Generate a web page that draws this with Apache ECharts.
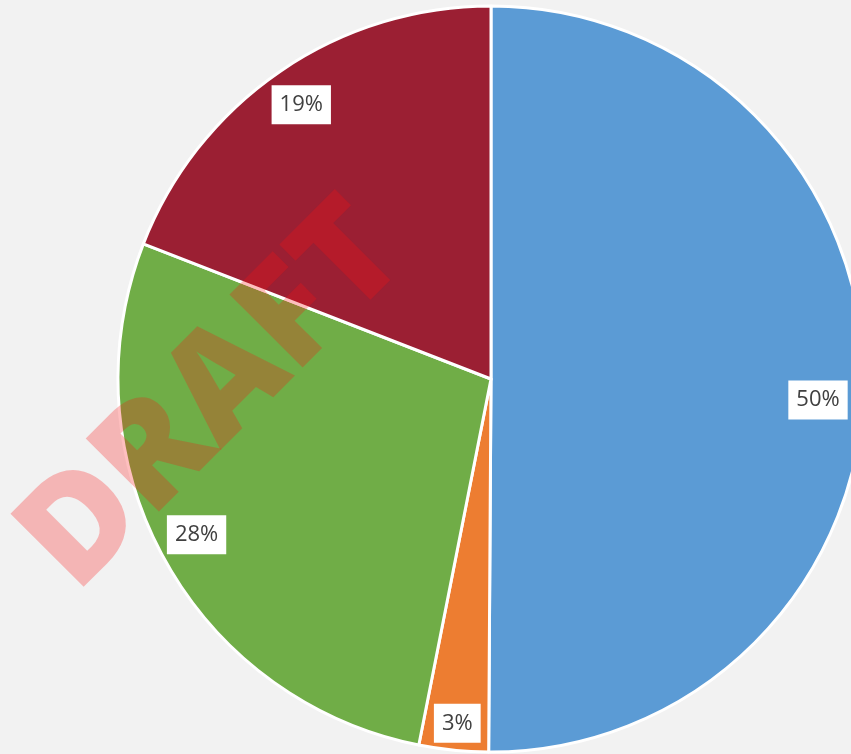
<!DOCTYPE html>
<html>
<head>
<meta charset="utf-8">
<style>
  html, body { margin: 0; padding: 0; background: #f2f2f2; }
  #chart { width: 851px; height: 754px; }
</style>
<script src="https://cdn.jsdelivr.net/npm/echarts@6/dist/echarts.min.js"></script>
</head>
<body>
<div id="chart"></div>
<script>
// Slice names, shares and fill colours, in clockwise order from 12 o'clock
const categories = ['Segment A', 'Segment B', 'Segment C', 'Segment D'];
const shares = [50.1, 3.0, 27.8, 19.1];
const sliceColors = ['#5b9bd5', '#ed7d31', '#70ad47', '#9b1f33'];
const watermarkText = 'DRAFT';

// small nudges for the "best fit" label placement
const labelNudges = [[-9, 20], [0, 10], [0, -6], [0, 3]];

const CX = 491, CY = 379, R = 373;

const chart = echarts.init(document.getElementById('chart'), null, { renderer: 'canvas' });

chart.setOption({
  backgroundColor: '#f2f2f2',
  animation: false,
  series: [
    {
      // filled sectors
      type: 'pie',
      center: [CX, CY],
      radius: [0, R],
      startAngle: 90,
      clockwise: true,
      avoidLabelOverlap: false,
      silent: true,
      label: { show: false },
      labelLine: { show: false },
      itemStyle: { borderColor: '#ffffff', borderWidth: 3 },
      data: categories.map((name, i) => ({
        name: name,
        value: shares[i],
        itemStyle: { color: sliceColors[i] }
      })),
      z: 1
    },
    {
      // transparent ring used only to place the percentage labels near the rim
      type: 'pie',
      center: [CX, CY],
      radius: [293, R],
      startAngle: 90,
      clockwise: true,
      avoidLabelOverlap: false,
      silent: true,
      percentPrecision: 0,
      itemStyle: { color: 'rgba(0,0,0,0)', borderWidth: 0 },
      label: {
        show: true,
        position: 'inside',
        formatter: '{d}%',
        fontFamily: 'Open Sans',
        fontSize: 22,
        lineHeight: 24,
        color: '#404040',
        backgroundColor: '#ffffff',
        padding: [8, 8, 7, 8]
      },
      labelLine: { show: false },
      data: categories.map((name, i) => ({
        name: name,
        value: shares[i],
        label: { offset: labelNudges[i] }
      })),
      z: 3
    }
  ],
  graphic: [
    {
      type: 'text',
      x: 214,
      y: 398,
      rotation: Math.PI / 4,
      z: 10,
      silent: true,
      style: {
        text: watermarkText,
        font: '800 145px "Open Sans"',
        fill: 'rgba(250, 18, 18, 0.27)',
        align: 'center',
        verticalAlign: 'middle'
      }
    }
  ]
});
</script>
</body>
</html>
